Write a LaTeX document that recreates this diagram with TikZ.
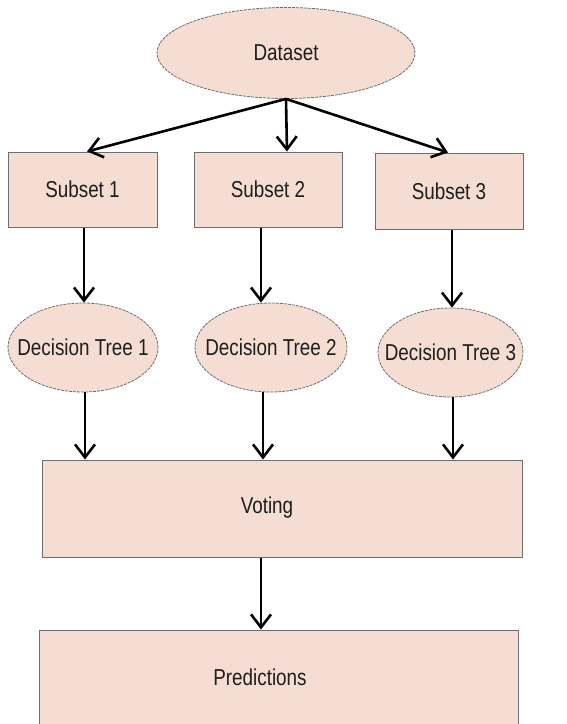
\documentclass[tikz,border=0pt]{standalone}
\usepackage{fontspec}
\setmainfont{Liberation Sans}[FakeStretch=0.82]
\usetikzlibrary{arrows.meta,shapes.geometric}
\definecolor{peach}{RGB}{246,221,211}
\definecolor{edgegray}{RGB}{110,110,110}
\definecolor{ink}{RGB}{30,30,30}
\begin{document}
\begin{tikzpicture}[x=1pt,y=-1pt,
  every node/.style={font=\fontsize{23}{27}\selectfont, text=ink},
  oval/.style={ellipse, draw=edgegray, line width=0.8pt, dash pattern=on 3pt off 1pt, fill=peach, inner sep=0pt, inner xsep=-16pt},
  box/.style={rectangle, draw=edgegray, line width=1pt, fill=peach, inner sep=0pt},
  flow/.style={line width=2.6pt, -{Straight Barb[length=13pt,width=20pt]}}
]
\useasboundingbox (0,0) rectangle (566,724);
\clip (0,0) rectangle (566,724);

% source data
\node[oval, minimum width=258, minimum height=91] (ds) at (286,53) {Dataset};

% bootstrap subsets
\node[box, minimum width=149, minimum height=75] (s1) at (82.5,189.5) {Subset 1};
\node[box, minimum width=148, minimum height=75] (s2) at (268,189.5) {Subset 2};
\node[box, minimum width=148, minimum height=76] (s3) at (449,191) {Subset 3};

% one tree per subset
\node[oval, minimum width=150, minimum height=89] (dt1) at (83,347.5) {Decision Tree 1};
\node[oval, minimum width=152, minimum height=89] (dt2) at (271,347.5) {Decision Tree 2};
\node[oval, minimum width=145, minimum height=89] (dt3) at (450.5,352.5) {Decision Tree 3};

% aggregation and output
\node[box, minimum width=480, minimum height=97] (vote) at (282,508.5) {};
\node (votetxt) at (267,508) {Voting};
\node[box, minimum width=479, minimum height=110] (pred) at (278.5,685) {};
\node (predtxt) at (260,677) {Predictions};

% connectors
\draw[flow] (ds.south) -- ([xshift=4.5pt]s1.north);
\draw[flow] (ds.south) -- ([xshift=19pt]s2.north);
\draw[flow] (ds.south) -- ([xshift=-1pt]s3.north);

\draw[flow] ([xshift=1.5pt]s1.south) -- ([xshift=1.5pt]s1.south |- dt1.north);
\draw[flow] ([xshift=-7pt]s2.south) -- ([xshift=-7pt]s2.south |- dt2.north);
\draw[flow] ([xshift=3pt]s3.south) -- ([xshift=3pt]s3.south |- dt3.north);

\draw[flow] ([xshift=2pt]dt1.south) -- ([xshift=2pt]dt1.south |- vote.north);
\draw[flow] ([xshift=-8pt]dt2.south) -- ([xshift=-8pt]dt2.south |- vote.north);
\draw[flow] ([xshift=2.5pt]dt3.south) -- ([xshift=2.5pt]dt3.south |- vote.north);

\draw[flow] ([xshift=-21pt]vote.south) -- ([xshift=-21pt]vote.south |- pred.north);
\end{tikzpicture}
\end{document}
